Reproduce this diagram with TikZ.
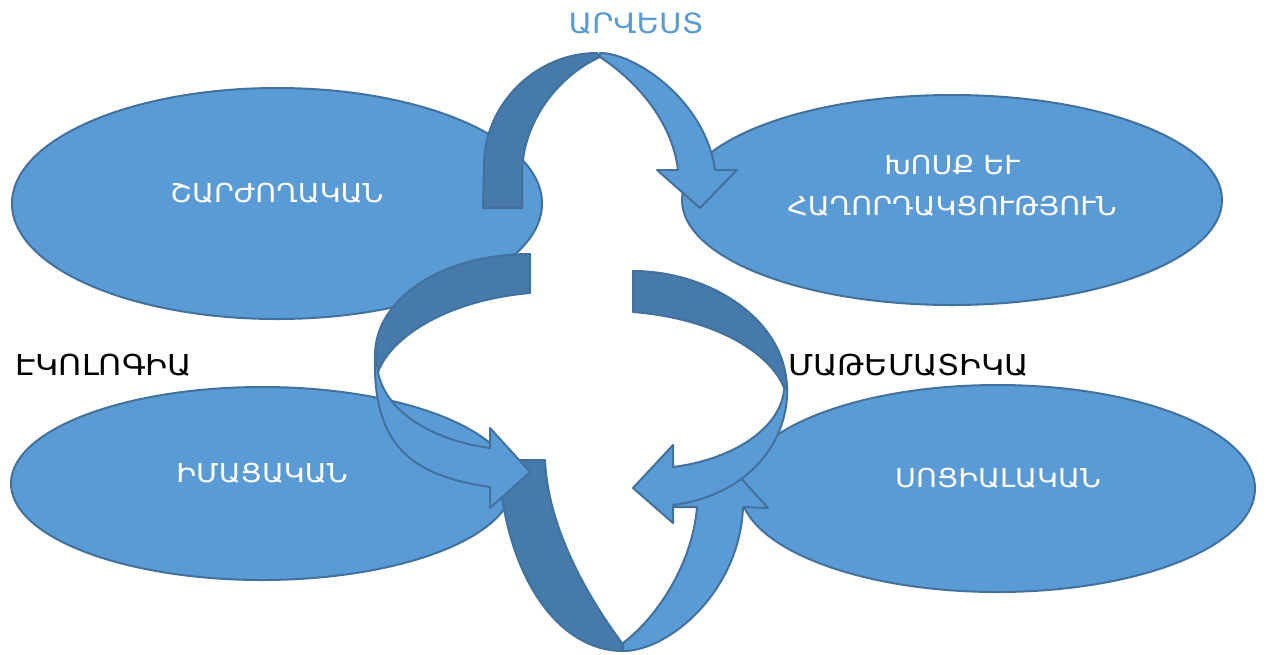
\documentclass[tikz,border=0pt]{standalone}
\usepackage{fontspec}
\setmainfont[FakeStretch=1.1]{DejaVu Sans}
\usetikzlibrary{shapes.geometric}
\definecolor{fillb}{HTML}{5B9BD5}
\definecolor{edgeb}{HTML}{41719C}
\definecolor{darkb}{HTML}{467AAB}
\begin{document}
\begin{tikzpicture}[x=0.5pt,y=-0.5pt,
  blob/.style={ellipse, draw=edgeb, fill=fillb, line width=1pt, inner sep=0pt, outer sep=0pt},
  frontband/.style={draw=edgeb, line width=1pt, line join=round, fill=fillb},
  backband/.style={frontband, fill=darkb},
  wtext/.style={text=white, font=\fontsize{13}{16}\selectfont, anchor=base, inner sep=0pt},
  btext/.style={text=black, font=\fontsize{14.4}{17}\selectfont, anchor=base west, inner sep=0pt}]
\useasboundingbox (0,0) rectangle (1267,654);
% ellipses
\node[blob, minimum width=265pt, minimum height=115.5pt] (e1) at (277,203.5) {};
\node[blob, minimum width=270pt, minimum height=105pt] (e2) at (952,200) {};
\node[blob, minimum width=251pt, minimum height=96.5pt] (e3) at (262,483.5) {};
\node[blob, minimum width=257.5pt, minimum height=103.5pt] (e4) at (997.5,488.5) {};
% top arrow
\path[backband] (483,208) -- (484,165) .. controls (484,105) and (535,53) .. (597,53)
  -- (600,57) .. controls (560,75) and (522,120) .. (522,175) -- (522,208) -- cycle;
\path[frontband] (600,53) .. controls (635,53) and (705,100) .. (715,170)
  -- (737,170) -- (700,208) -- (657,170) -- (678,170)
  .. controls (672,120) and (635,80) .. (600,57) -- cycle;
% bottom arrow
\path[backband] (498,460) .. controls (505,580) and (560,651) .. (623,651)
  -- (622,643) .. controls (590,600) and (548,530) .. (545,460) -- cycle;
\path[frontband] (623,651) .. controls (670,651) and (740,590) .. (743,507)
  -- (768,508) -- (720,455) -- (673,507) -- (697,507)
  .. controls (693,560) and (660,615) .. (623,643) -- cycle;
% left arrow
\path[backband] (530,254) .. controls (440,254) and (375,300) .. (375,355)
  -- (378,372) .. controls (392,335) and (450,300) .. (530,293) -- cycle;
\path[frontband] (375,352) .. controls (372,440) and (405,475) .. (490,487)
  -- (490,508) -- (530,472) -- (490,428) -- (490,448)
  .. controls (430,440) and (385,410) .. (378,372) -- cycle;
% right arrow
\path[backband] (633,271) .. controls (710,271) and (787,320) .. (787,390)
  -- (785,390) .. controls (770,350) and (710,318) .. (633,312) -- cycle;
\path[frontband] (787,385) .. controls (790,440) and (750,495) .. (673,505)
  -- (673,523) -- (633,488) -- (673,445) -- (673,467)
  .. controls (730,460) and (780,430) .. (784,390) -- cycle;
% texts
\node[wtext, text=fillb, font=\fontsize{14}{17}\selectfont] (t0) at (636,33) {ԱՐՎԵՍՏ};
\node[wtext] (t1) at (277,202) {ՇԱՐԺՈՂԱԿԱՆ};
\node[wtext] (t2a) at (952,174) {ԽՈՍՔ ԵՒ};
\node[wtext] (t2b) at (952,215) {ՀԱՂՈՐԴԱԿՑՈՒԹՅՈՒՆ};
\node[wtext] (t3) at (262,482) {ԻՄԱՑԱԿԱՆ};
\node[wtext] (t4) at (998,487) {ՍՈՑԻԱԼԱԿԱՆ};
\node[btext] (t5) at (15,375) {ԷԿՈԼՈԳԻԱ};
\node[btext] (t6) at (788,375) {ՄԱԹԵՄԱՏԻԿԱ};
\end{tikzpicture}
\end{document}
